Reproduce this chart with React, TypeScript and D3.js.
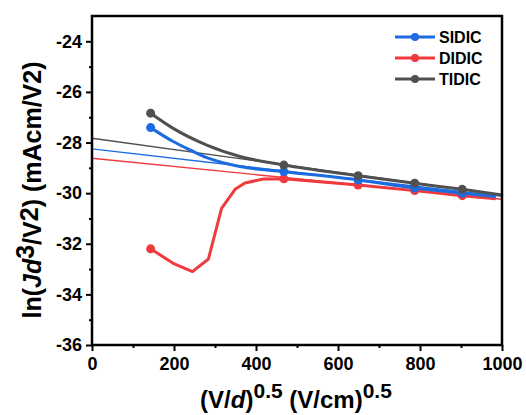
import React, { useEffect, useRef } from "react";
import * as d3 from "d3";

const seriesNames = ["SIDIC", "DIDIC", "TIDIC"];
const seriesColors = ["#1c6be0", "#f03a3e", "#505050"];

// (V/d)^0.5 values and ln(Jd3/V2) values
const sidicX = [143, 198, 239, 280, 361, 468, 649, 787, 903, 985];
const sidicY = [-27.41, -27.96, -28.29, -28.6, -28.95, -29.15, -29.48, -29.8, -30.0, -30.14];
const didicX = [143, 198, 245, 284, 316, 349, 373, 418, 468, 649, 787, 903, 985];
const didicY = [-32.2, -32.77, -33.1, -32.6, -30.6, -29.85, -29.6, -29.44, -29.43, -29.68, -29.9, -30.1, -30.22];
const tidicX = [143, 198, 280, 361, 468, 649, 787, 903, 1000];
const tidicY = [-26.84, -27.44, -28.1, -28.55, -28.89, -29.31, -29.61, -29.85, -30.07];
// which points carry a marker
const markerX = [143, 468, 649, 787, 903];

// linear fits: [value at 0, value at 1000]
const fitStart = [-28.25, -28.62, -27.83];
const fitEnd = [-30.12, -30.24, -30.07];

const xTicks = [0, 200, 400, 600, 800, 1000];
const yTicks = [-36, -34, -32, -30, -28, -26, -24];

const W = 526, H = 415;
const margin = { left: 92, top: 16, right: 24, bottom: 70 };

export default function App() {
  const ref = useRef<SVGSVGElement>(null);

  useEffect(() => {
    const svg = d3.select(ref.current);
    svg.selectAll("*").remove();
    const x = d3.scaleLinear([0, 1000], [margin.left, W - margin.right]);
    const y = d3.scaleLinear([-36, -23], [H - margin.bottom, margin.top]);
    const font = "Arial, 'Liberation Sans', sans-serif";

    const series = [
      { xs: sidicX, ys: sidicY, curve: d3.curveMonotoneX },
      { xs: didicX, ys: didicY, curve: d3.curveLinear },
      { xs: tidicX, ys: tidicY, curve: d3.curveMonotoneX },
    ];

    // fit lines
    series.forEach((_, i) => {
      svg.append("line")
        .attr("x1", x(0)).attr("y1", y(fitStart[i]))
        .attr("x2", x(1000)).attr("y2", y(fitEnd[i]))
        .attr("stroke", seriesColors[i]).attr("stroke-width", 1.4);
    });

    // draw order: DIDIC, SIDIC, TIDIC (gray on top)
    [1, 0, 2].forEach(i => {
      const s = series[i];
      const pts = s.xs.map((v, k) => [v, s.ys[k]] as [number, number]);
      const line = d3.line<[number, number]>()
        .x(d => x(d[0])).y(d => y(d[1]))
        .curve(s.curve);
      svg.append("path")
        .attr("d", line(pts))
        .attr("fill", "none")
        .attr("stroke", seriesColors[i])
        .attr("stroke-width", 3)
        .attr("stroke-linejoin", "round");
      svg.append("g").selectAll("circle")
        .data(pts.filter(p => markerX.includes(p[0])))
        .join("circle")
        .attr("cx", d => x(d[0])).attr("cy", d => y(d[1]))
        .attr("r", 4.5).attr("fill", seriesColors[i]);
    });

    // axes
    const xAxis = svg.append("g")
      .attr("transform", `translate(0,${H - margin.bottom})`)
      .call(d3.axisBottom(x).tickValues(xTicks).tickSize(6).tickPadding(3).tickFormat(d => String(d)));
    svg.append("g")
      .attr("transform", `translate(0,${H - margin.bottom})`)
      .call(d3.axisBottom(x).tickValues(d3.range(100, 1000, 200)).tickSize(3).tickFormat(() => ""))
      .call(g => g.select(".domain").remove());
    const yAxis = svg.append("g")
      .attr("transform", `translate(${margin.left},0)`)
      .call(d3.axisLeft(y).tickValues(yTicks).tickSize(6).tickPadding(4).tickFormat(d => String(d)));
    svg.append("g")
      .attr("transform", `translate(${margin.left},0)`)
      .call(d3.axisLeft(y).tickValues(d3.range(-35, -23, 2)).tickSize(3).tickFormat(() => ""))
      .call(g => g.select(".domain").remove());

    svg.selectAll(".tick line").attr("stroke", "#000").attr("stroke-width", 2);
    [xAxis, yAxis].forEach(g => {
      g.select(".domain").remove();
      g.selectAll("text")
        .attr("font-family", font).attr("font-weight", "bold")
        .attr("font-size", 18).attr("fill", "#000");
    });
    xAxis.selectAll("text").attr("dy", "0.9em");

    // frame
    svg.append("rect")
      .attr("x", margin.left).attr("y", margin.top)
      .attr("width", W - margin.left - margin.right)
      .attr("height", H - margin.top - margin.bottom)
      .attr("fill", "none").attr("stroke", "#000").attr("stroke-width", 2.5);

    // legend
    const leg = svg.append("g");
    seriesNames.forEach((name, i) => {
      const ly = 37 + i * 21;
      leg.append("line").attr("x1", 395).attr("x2", 435).attr("y1", ly).attr("y2", ly)
        .attr("stroke", seriesColors[i]).attr("stroke-width", 3);
      leg.append("circle").attr("cx", 415).attr("cy", ly).attr("r", 4).attr("fill", seriesColors[i]);
      leg.append("text").attr("x", 439).attr("y", ly).attr("dy", "0.36em")
        .attr("font-family", font).attr("font-weight", "bold").attr("font-size", 16)
        .text(name);
    });

    // x label
    const xl = svg.append("text")
      .attr("x", 296).attr("y", 408).attr("text-anchor", "middle")
      .attr("font-family", font).attr("font-weight", "bold").attr("font-size", 24);
    xl.append("tspan").text("(V/");
    xl.append("tspan").attr("font-style", "italic").text("d");
    xl.append("tspan").text(")");
    xl.append("tspan").attr("dy", -10).attr("font-size", 21).text("0.5");
    xl.append("tspan").attr("dy", 10).text(" (V/cm)");
    xl.append("tspan").attr("dy", -10).attr("font-size", 21).text("0.5");

    // y label
    const yl = svg.append("text")
      .attr("transform", `translate(41,190) rotate(-90)`)
      .attr("text-anchor", "middle")
      .attr("font-family", font).attr("font-weight", "bold").attr("font-size", 25);
    yl.append("tspan").text("ln(");
    yl.append("tspan").attr("font-style", "italic").text("Jd");
    yl.append("tspan").attr("dy", -7).text("3");
    yl.append("tspan").attr("dy", 7).text("/V");
    yl.append("tspan").attr("dy", -3).text("2");
    yl.append("tspan").attr("dy", 3).text(") (mAcm/V2)");
  }, []);

  return <svg ref={ref} width={W} height={H} style={{ display: "block", position: "absolute", left: 0, top: 0 }} />;
}
